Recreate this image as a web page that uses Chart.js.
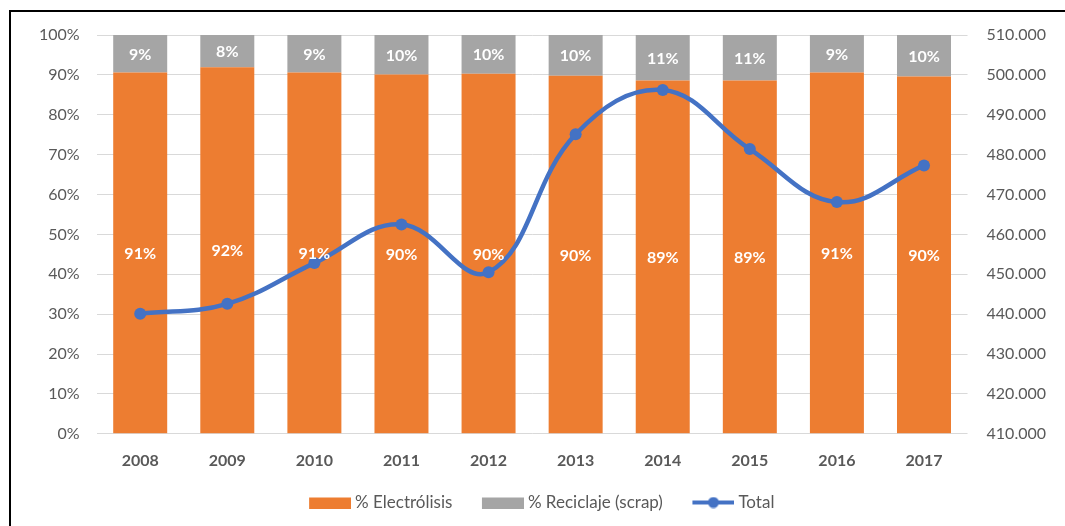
<!DOCTYPE html>
<html>
<head>
<meta charset="utf-8">
<script src="https://cdn.jsdelivr.net/npm/chart.js@4"></script>
<style>
  html, body { margin: 0; padding: 0; background: #fff; overflow: hidden; }
  #wrap { position: relative; width: 1065px; height: 526px; }
  #frame { position: absolute; left: 9px; top: 10px; width: 1100px; height: 600px; border: 2px solid #000; box-sizing: border-box; }
  canvas { position: absolute; left: 0; top: 0; }
</style>
</head>
<body>
<div id="wrap">
  <div id="frame"></div>
  <canvas id="chart" width="1065" height="526"></canvas>
</div>
<script>
const years       = ['2008', '2009', '2010', '2011', '2012', '2013', '2014', '2015', '2016', '2017'];
const electrolisis = [90.6, 91.9, 90.6, 90.1, 90.3, 89.8, 88.6, 88.6, 90.6, 89.6];
const reciclaje    = [9.4, 8.1, 9.4, 9.9, 9.7, 10.2, 11.4, 11.4, 9.4, 10.4];
const total        = [440100, 442600, 452800, 462500, 450500, 485100, 496200, 481400, 468100, 477300];

const ORANGE = '#ED7D31', GRAY = '#A5A5A5', BLUE = '#4472C4', TXT = '#595959';
const FONT = 'Lato, "Open Sans", sans-serif';
const ICON_W = 60;     // legend box slot; icon itself is 42px, right aligned
const ICON_PUSH = 4.5; // pushes icon closer to its text
const LEGEND_SHIFT = -13;

const fmtThousands = v => String(v).replace(/\B(?=(\d{3})+(?!\d))/g, '.');

function legendIcon(kind, color) {
    const c = document.createElement('canvas');
    c.width = ICON_W + 2 * ICON_PUSH; c.height = 12;
    const g = c.getContext('2d');
    const x0 = c.width - 42;
    if (kind === 'box') {
        g.fillStyle = color;
        g.fillRect(x0, 1, 42, 11);
    } else {
        g.strokeStyle = color;
        g.lineWidth = 4;
        g.beginPath(); g.moveTo(x0, 6); g.lineTo(x0 + 42, 6); g.stroke();
        g.fillStyle = color;
        g.beginPath(); g.arc(x0 + 21, 6, 5.5, 0, Math.PI * 2); g.fill();
    }
    return c;
}
const icons = [legendIcon('box', ORANGE), legendIcon('box', GRAY), legendIcon('line', BLUE)];

const barLabels = {
    id: 'barLabels',
    afterLayout(chart) {
        chart.legend.left += LEGEND_SHIFT;
        chart.legend.right += LEGEND_SHIFT;
    },
    afterDatasetsDraw(chart) {
        const ctx = chart.ctx;
        ctx.save();
        ctx.fillStyle = '#fff';
        ctx.font = 'bold 16px ' + FONT;
        ctx.textAlign = 'center';
        ctx.textBaseline = 'middle';
        [0, 1].forEach(i => {
            const ds = chart.data.datasets[i];
            chart.getDatasetMeta(i).data.forEach((bar, j) => {
                const p = bar.getProps(['x', 'y', 'base'], true);
                ctx.fillText(Math.round(ds.data[j]) + '%', p.x, (p.y + p.base) / 2 + 1);
            });
        });
        ctx.restore();
    }
};

new Chart(document.getElementById('chart'), {
    type: 'bar',
    data: {
        labels: years,
        datasets: [
            { label: '% Electrólisis', data: electrolisis, backgroundColor: ORANGE, yAxisID: 'y', order: 2, barPercentage: 1, categoryPercentage: 0.62 },
            { label: '% Reciclaje (scrap)', data: reciclaje, backgroundColor: GRAY, yAxisID: 'y', order: 2, barPercentage: 1, categoryPercentage: 0.62 },
            { type: 'line', label: 'Total', data: total, yAxisID: 'y1', order: 1, borderColor: BLUE, backgroundColor: BLUE,
              borderWidth: 4.5, pointRadius: 6, pointBackgroundColor: BLUE, pointBorderWidth: 0, tension: 0.4, fill: false }
        ]
    },
    options: {
        responsive: false,
        animation: false,
        layout: { padding: { left: 22, right: 0, top: 35, bottom: 5 } },
        scales: {
            x: {
                stacked: true,
                grid: { display: false, drawTicks: false },
                border: { display: false },
                ticks: { color: TXT, font: { family: FONT, size: 16, weight: 'bold' }, padding: 17 }
            },
            y: {
                stacked: true,
                min: 0, max: 100,
                ticks: { stepSize: 10, color: TXT, font: { family: FONT, size: 16 }, padding: 17, callback: v => v + '%' },
                grid: { color: '#D9D9D9', drawTicks: false },
                border: { display: false }
            },
            y1: {
                position: 'right',
                min: 410000, max: 510000,
                ticks: { stepSize: 10000, color: TXT, font: { family: FONT, size: 16 }, padding: 19, callback: v => fmtThousands(v) },
                grid: { drawOnChartArea: false, drawTicks: false },
                border: { display: false }
            }
        },
        plugins: {
            tooltip: { enabled: false },
            legend: {
                position: 'bottom',
                labels: {
                    color: TXT,
                    font: { family: FONT, size: 17 },
                    usePointStyle: true,
                    pointStyleWidth: ICON_W,
                    boxHeight: 12,
                    padding: 7,
                    sort: (a, b) => a.datasetIndex - b.datasetIndex,
                    generateLabels(chart) {
                        const items = Chart.defaults.plugins.legend.labels.generateLabels(chart);
                        items.forEach(it => { it.pointStyle = icons[it.datasetIndex]; });
                        return items;
                    }
                }
            }
        }
    },
    plugins: [barLabels]
});
</script>
</body>
</html>
